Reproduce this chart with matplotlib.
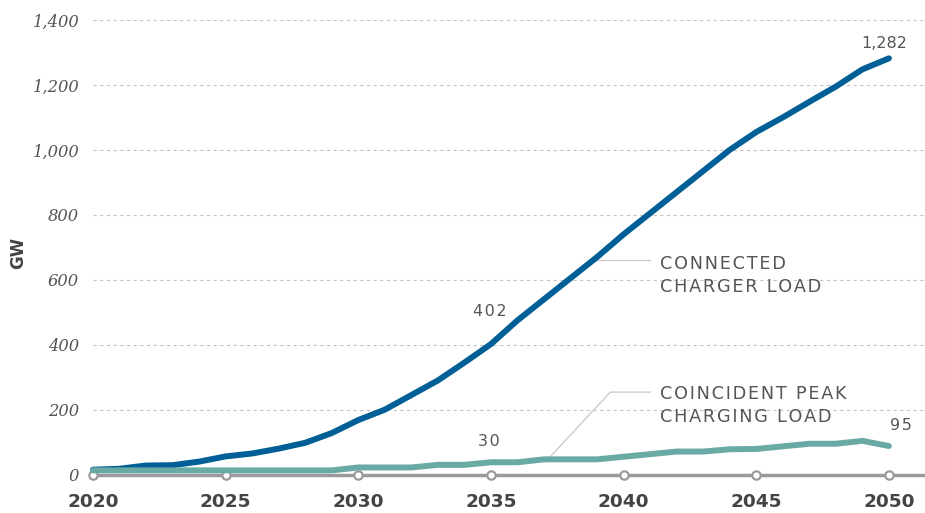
import matplotlib
matplotlib.use("Agg")
import matplotlib.pyplot as plt

years = list(range(2020, 2051))
connected = [15, 18, 28, 29, 40, 56, 65, 80, 98, 128,
             168, 200, 245, 290, 345, 402, 475, 540, 605, 670,
             740, 805, 870, 935, 1000, 1055, 1100, 1148, 1195, 1248, 1282]
coincident = [13, 13, 13, 13, 13, 13, 13, 13, 13, 13,
              22, 22, 22, 30, 30, 38, 38, 47, 47, 47,
              55, 63, 71, 71, 78, 79, 87, 95, 95, 104, 88]
yticks = [0, 200, 400, 600, 800, 1000, 1200, 1400]
ytick_labels = ["0", "200", "400", "600", "800", "1,000", "1,200", "1,400"]
xticks = [2020, 2025, 2030, 2035, 2040, 2045, 2050]
xtick_labels = ["2020", "2025", "2030", "2035", "2040", "2045", "2050"]

BLUE = "#005f96"
TEAL = "#6aaaa5"
GREY = "#9a9a9a"
TXT = "#555555"


def spaced(s):
    return "\u200a".join(s)


fig = plt.figure(figsize=(9.25, 5.13), dpi=100)
ax = fig.add_axes([93 / 925, (513 - 474.6) / 513, 1 - 93 / 925, (474.6 - 20) / 513])

ax.set_xlim(2020, 2051.36)
ax.set_ylim(0, 1400)

for s in ax.spines.values():
    s.set_visible(False)

ax.set_yticks(yticks)
ax.set_yticklabels(ytick_labels, fontfamily="DejaVu Serif", fontstyle="italic",
                   fontsize=11.8, color=TXT)
ax.set_xticks(xticks)
ax.set_xticklabels(xtick_labels, fontfamily="DejaVu Sans", fontweight="bold",
                   fontsize=13.3, color="#444444")
ax.tick_params(axis="y", length=0, pad=10)
ax.tick_params(axis="x", length=0, pad=13)

ax.yaxis.grid(True, linestyle=(0, (3, 3)), color="#c4c4c4", linewidth=0.8)
ax.set_axisbelow(True)

fig.text(18 / 925, 1 - 253 / 513, "GW", fontfamily="DejaVu Sans", fontweight="bold",
         fontsize=12, color="#444444", rotation=90, ha="center", va="center")

# axis baseline with circle markers
ax.axhline(0, color=GREY, linewidth=2.5, zorder=2, clip_on=False)
ax.plot(xticks, [0] * len(xticks), "o", markerfacecolor="white",
        markeredgecolor=GREY, markersize=6, markeredgewidth=1.6,
        zorder=3, clip_on=False)

ax.plot(years, connected, color=BLUE, linewidth=4.3, solid_capstyle="round",
        solid_joinstyle="round", zorder=4, clip_on=False)
ax.plot(years, coincident, color=TEAL, linewidth=4.3, solid_capstyle="round",
        solid_joinstyle="round", zorder=5, clip_on=False)

# leader lines
ax.plot([2039.0, 2041.0], [660, 660], color="#cccccc", linewidth=1, zorder=3)
ax.plot([2037.2, 2039.5, 2041.0], [52, 254, 254], color="#cccccc",
        linewidth=1, zorder=3)

ax.text(2041.37, 614, spaced("CONNECTED") + "\n" + spaced("CHARGER LOAD"),
        fontfamily="DejaVu Sans", fontsize=12.7, color=TXT, va="center",
        ha="left", linespacing=1.38)
ax.text(2041.37, 213, spaced("COINCIDENT PEAK") + "\n" + spaced("CHARGING LOAD"),
        fontfamily="DejaVu Sans", fontsize=12.7, color=TXT, va="center",
        ha="left", linespacing=1.38)

ax.text(2049.82, 1328, "1,282", fontsize=11.5, color=TXT, ha="center", va="center")
ax.text(2034.96, 501, spaced("402"), fontsize=11.5, color=TXT, ha="center", va="center")
ax.text(2034.93, 103, spaced("30"), fontsize=11.5, color=TXT, ha="center", va="center")
ax.text(2050.46, 152, spaced("95"), fontsize=11.5, color=TXT, ha="center", va="center")

fig.savefig("out.png", dpi=100)
